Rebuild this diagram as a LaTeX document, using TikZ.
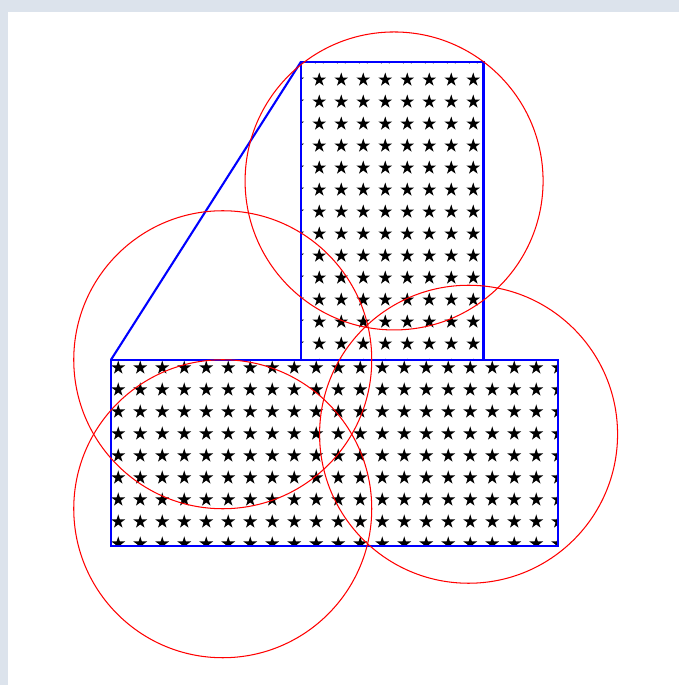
\documentclass[tikz,border=0pt]{standalone}
\usepackage{tikz}
\usetikzlibrary{calc}
\usetikzlibrary{patterns}
\definecolor{frame}{HTML}{DCE3EC}

\begin{document}
\begin{tikzpicture}
\fill[frame] (-1.49,-1.866) rectangle (7.624,7.329);
\fill[white] (-1.383,-1.866) rectangle (7.624,7.168);
\useasboundingbox (-1.49,-1.866) rectangle (7.624,7.329);

       \coordinate (A) at (0,0);
       \coordinate (B) at (6,0);
       \coordinate (C) at (6,2.5);
       \coordinate (D) at (0,2.5);
       
       \coordinate (E) at (2.55,2.5);
       \coordinate (F) at (5,2.5);
       \coordinate (G) at (5,6.5);
       \coordinate (H) at (2.55,6.5);
       
       \draw[thick, blue, pattern=fivepointed stars] (A) rectangle (C);
       \draw[thick, blue, pattern=fivepointed stars] (E) rectangle (G);
       
       \draw[thick, blue] (D) -- (H);
       
       \coordinate (O1) at (3.8,4.9);
       \coordinate (O2) at (1.5,2.5);
       \coordinate (O3) at (1.5,0.5);
       \coordinate (O4) at (4.8,1.5);
       
       \draw[red] (O1) circle (2);
       \draw[red] (O2) circle (2);
       \draw[red] (O3) circle (2);
       \draw[red] (O4) circle (2);
\end{tikzpicture}
\end{document}
